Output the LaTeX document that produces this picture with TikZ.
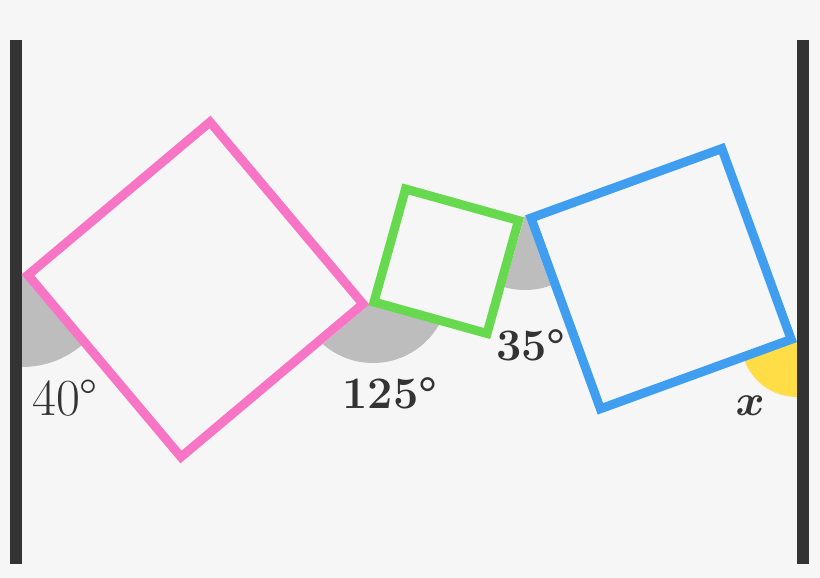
\documentclass[tikz,border=0pt]{standalone}
\usepackage{fontspec}
\setmainfont{Latin Modern Roman}
\usepackage{graphicx}
\definecolor{bg}{HTML}{F6F6F6}
\definecolor{wall}{HTML}{333333}
\definecolor{pinkc}{HTML}{F874C4}
\definecolor{greenc}{HTML}{66D94E}
\definecolor{bluec}{HTML}{409EF0}
\definecolor{sect}{HTML}{BDBDBD}
\definecolor{yel}{HTML}{FFDD47}
\definecolor{txt}{HTML}{333333}
\tikzset{
  wallbar/.style={fill=wall, draw=none},
  sq/.style={line width=9pt, line join=miter},
  lab/.style={text=txt, inner sep=0pt, font=\fontsize{45}{45}\selectfont},
}
\begin{document}
\begin{tikzpicture}[x=1pt,y=-1pt]
\fill[bg] (0,0) rectangle (820,578);
\useasboundingbox (0,0) rectangle (820,578);
% vertices
\coordinate (PL) at (28,275);
\coordinate (PT) at (210,122);
\coordinate (PR) at (363,304);
\coordinate (PB) at (181,457);
\coordinate (G1) at (374,302);
\coordinate (G2) at (405.5,189);
\coordinate (G3) at (518.5,220.5);
\coordinate (G4) at (487,333.5);
\coordinate (B1) at (531,218);
\coordinate (B2) at (721.8,148.6);
\coordinate (B3) at (791.2,339.4);
\coordinate (B4) at (600.4,408.8);
% sectors
\begin{scope}
  \clip (22,274) -- (22,574) -- (215,504) -- cycle;
  \fill[sect] (22,274) circle[radius=93];
\end{scope}
\begin{scope}
  \clip (370,304) -- (65,563) -- (755,412) -- cycle;
  \fill[sect] (373,287) circle[radius=76];
\end{scope}
\begin{scope}
  \clip (525,215) -- (628,497) -- (443,504) -- cycle;
  \fill[sect] (525,215) circle[radius=75];
\end{scope}
\begin{scope}
  \clip (797,341) -- (797,541) -- (609,409) -- cycle;
  \fill[yel] (797,341) circle[radius=56];
\end{scope}
% walls
\fill[wallbar] (10,40) rectangle (22,564);
\fill[wallbar] (797,40) rectangle (809,564);
% squares
\draw[sq, pinkc] (PL) -- (PT) -- (PR) -- (PB) -- cycle;
\draw[sq, greenc] (G1) -- (G2) -- (G3) -- (G4) -- cycle;
\draw[sq, bluec] (B1) -- (B2) -- (B3) -- (B4) -- cycle;
% labels
\node[lab, font=\fontsize{52}{52}\selectfont] (l40) at (65,398) {40°};
\node[lab] (l125) at (390,393) {\bfseries 125°};
\node[lab] (l35) at (531,345) {\bfseries 35°};
\node[lab, font=\normalsize] (lx) at (750,406) {\scalebox{4.4}{\boldmath$x$}};
\end{tikzpicture}
\end{document}
